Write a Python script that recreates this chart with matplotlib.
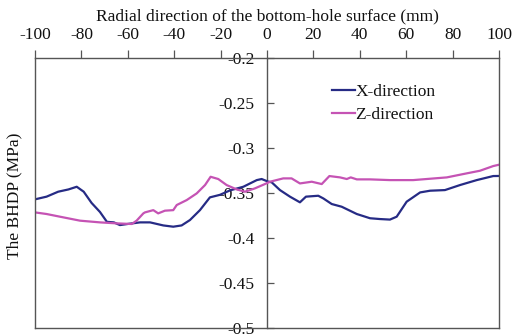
import matplotlib
matplotlib.use("Agg")
import matplotlib.pyplot as plt
from matplotlib.ticker import FixedLocator, FuncFormatter

plt.rcParams['font.family'] = ['Liberation Serif', 'DejaVu Serif']
plt.rcParams['axes.unicode_minus'] = False

# Radial positions (mm) and bottom-hole differential pressure (MPa)
x_dir_pos = [-100, -95, -90, -85.6, -82, -79, -75.6, -72, -69, -66, -63.4, -59,
             -54.7, -50.4, -44.7, -40.4, -36.8, -33.2, -28.9, -24.6, -20.3, -15.9,
             -10.2, -4.4, -2.3, 0.6, 2, 5.6, 9.9, 14.2, 16.8, 22.1, 24.3, 27.9,
             32.2, 38.7, 44.4, 48.7, 53, 55.9, 60.2, 66, 70.3, 76.7, 83.2, 90.4,
             97.5, 100]
x_dir_val = [-0.357, -0.354, -0.3485, -0.346, -0.343, -0.3485, -0.361, -0.371,
             -0.382, -0.3826, -0.3856, -0.384, -0.3826, -0.3826, -0.386, -0.3874,
             -0.386, -0.38, -0.369, -0.3548, -0.352, -0.347, -0.343, -0.3356,
             -0.3344, -0.3374, -0.338, -0.3467, -0.354, -0.3603, -0.354, -0.353,
             -0.356, -0.3622, -0.3652, -0.3733, -0.378, -0.3789, -0.3795, -0.3763,
             -0.3596, -0.3493, -0.3474, -0.3467, -0.3411, -0.3356, -0.3311, -0.331]

z_dir_pos = [-100, -95, -89.2, -80.6, -72, -64.8, -58.3, -56.2, -53.3, -52.6, -49,
             -46.9, -44, -40.4, -38.9, -34.6, -30.3, -26.7, -24.3, -21, -17.4,
             -13.1, -9.5, -5.2, -0.9, 1.3, 7, 10.6, 14.2, 19.3, 23.6, 26.9, 31.5,
             34.4, 36.1, 38.7, 44.4, 53, 63, 77.5, 86.1, 91.8, 97.5, 100]
z_dir_val = [-0.3715, -0.3733, -0.3763, -0.3807, -0.3826, -0.3837, -0.3844, -0.3807,
             -0.3726, -0.3715, -0.369, -0.3726, -0.3696, -0.369, -0.3633, -0.3578,
             -0.3504, -0.3411, -0.3319, -0.3344, -0.3411, -0.3459, -0.3485, -0.3448,
             -0.34, -0.3374, -0.3337, -0.3337, -0.3393, -0.3374, -0.34, -0.3311,
             -0.3326, -0.3344, -0.3326, -0.3348, -0.3348, -0.3356, -0.3356, -0.3326,
             -0.3281, -0.3252, -0.32, -0.3185]

x_ticks = [-100, -80, -60, -40, -20, 0, 20, 40, 60, 80, 100]
y_ticks = [-0.5, -0.45, -0.4, -0.35, -0.3, -0.25, -0.2]

series_labels = ['X-direction', 'Z-direction']
series_colors = ['#262b85', '#c553b4']

fig = plt.figure(figsize=(5.30, 3.34), dpi=100)
ax = fig.add_axes([0.066, 0.018, 0.8755, 0.808])

ax.plot(x_dir_pos, x_dir_val, color=series_colors[0], lw=1.6, label=series_labels[0])
ax.plot(z_dir_pos, z_dir_val, color=series_colors[1], lw=1.6, label=series_labels[1])

ax.set_xlim(-100, 100)
ax.set_ylim(-0.5, -0.2)

for s in ax.spines.values():
    s.set_color('#555555')
    s.set_linewidth(1.0)

# x axis on top
ax.xaxis.set_ticks_position('top')
ax.xaxis.set_label_position('top')
ax.xaxis.set_major_locator(FixedLocator(x_ticks))
ax.xaxis.set_major_formatter(FuncFormatter(lambda v, p: f'{int(round(v))}'))
ax.tick_params(axis='x', direction='out', length=6, width=0.9, color='#555555',
               labelsize=12.5, pad=5, labelcolor='#111111', bottom=False)
ax.set_xlabel('Radial direction of the bottom-hole surface (mm)', fontsize=12.5,
              labelpad=5, color='#111111')

ax.tick_params(axis='y', left=False, labelleft=False)

# y axis through x = 0, labels on its left side
sec = ax.secondary_yaxis(0.5)
sec.set_alignment('left')
sec.spines['left'].set_color('#555555')
sec.spines['left'].set_linewidth(1.0)
sec.yaxis.set_major_locator(FixedLocator(y_ticks))
sec.yaxis.set_major_formatter(FuncFormatter(lambda v, p: f'{v:g}'))
sec.tick_params(axis='y', direction='in', length=5, width=0.9, color='#555555',
                labelsize=12.5, pad=9, labelcolor='#111111')

fig.text(0.028, 0.415, 'The BHDP (MPa)', rotation=90, fontsize=12.5,
         ha='center', va='center', color='#111111')

leg = ax.legend(loc='upper left', bbox_to_anchor=(0.625, 0.93), frameon=False,
                fontsize=12.5, handlelength=1.3, handletextpad=0.05,
                labelspacing=0.4, borderaxespad=0)
for t in leg.get_texts():
    t.set_color('#111111')

fig.savefig('out.png', dpi=100)
